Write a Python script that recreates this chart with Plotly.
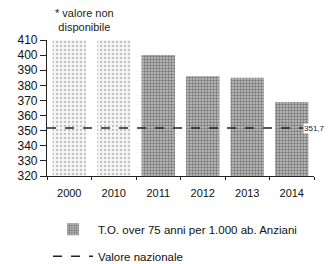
import plotly.graph_objects as go

years_na = ["2000", "2010"]
values_na = [410, 410]          # valore non disponibile: bars drawn to full height
years = ["2011", "2012", "2013", "2014"]
values = [400, 386, 385, 369]
national = 351.7
all_years = years_na + years
y_ticks = [320, 330, 340, 350, 360, 370, 380, 390, 400, 410]

fig = go.Figure()
fig.add_trace(go.Bar(
    x=years_na, y=values_na, showlegend=False,
    marker=dict(color="#f4f4f4", line=dict(width=0),
                pattern=dict(shape=".", fgcolor="#888", bgcolor="#f5f5f5",
                             size=4, solidity=0.25)),
))
fig.add_trace(go.Bar(
    x=years, y=values, name="T.O. over 75 anni per 1.000 ab. Anziani",
    legendgroup="a",
    marker=dict(color="#999", line=dict(width=0),
                pattern=dict(shape=".", fgcolor="#2a2a2a", bgcolor="#c4c4c4",
                             size=3, solidity=0.5)),
))
fig.add_shape(type="line", xref="paper", x0=0, x1=0.96, yref="y",
              y0=national, y1=national,
              line=dict(color="#222", width=1.5, dash="dash"),
              showlegend=True, name="Valore nazionale", legendgroup="b")
fig.add_annotation(xref="paper", x=0.96, yref="y", y=national,
                   text=f"{national:.1f}".replace(".", ","), showarrow=False,
                   xanchor="left", bgcolor="white", borderpad=0,
                   font=dict(size=8, color="#222"))
fig.add_annotation(xref="paper", x=0.142, yref="paper", y=1.147,
                   text="* valore non<br>disponibile", showarrow=False,
                   xanchor="center", yanchor="middle",
                   font=dict(size=11, color="#222"))

fig.update_layout(
    width=325, height=256,
    margin=dict(l=39, r=19, t=32, b=88, autoexpand=False),
    paper_bgcolor="white", plot_bgcolor="white",
    font=dict(family="Liberation Sans", size=11, color="#111"),
    bargap=0.25, barmode="overlay",
    legend=dict(x=0.004, y=-0.285, xanchor="left", yanchor="top",
                font=dict(size=11.5), tracegroupgap=8,
                itemwidth=40, bgcolor="rgba(0,0,0,0)"),
    xaxis=dict(categoryorder="array", categoryarray=all_years,
               showline=True, linecolor="#222", linewidth=1.2,
               ticks="outside", tickson="boundaries", ticklen=3,
               tickcolor="#222", tickfont=dict(size=11), showgrid=False,
               ticklabelstandoff=7),
    yaxis=dict(range=[320, 410], tickvals=y_ticks, showline=True,
               linecolor="#222", linewidth=1.2, ticks="outside", ticklen=6,
               tickcolor="#222", showgrid=False, zeroline=False,
               tickfont=dict(size=12)),
)
fig.write_html("out.html")
